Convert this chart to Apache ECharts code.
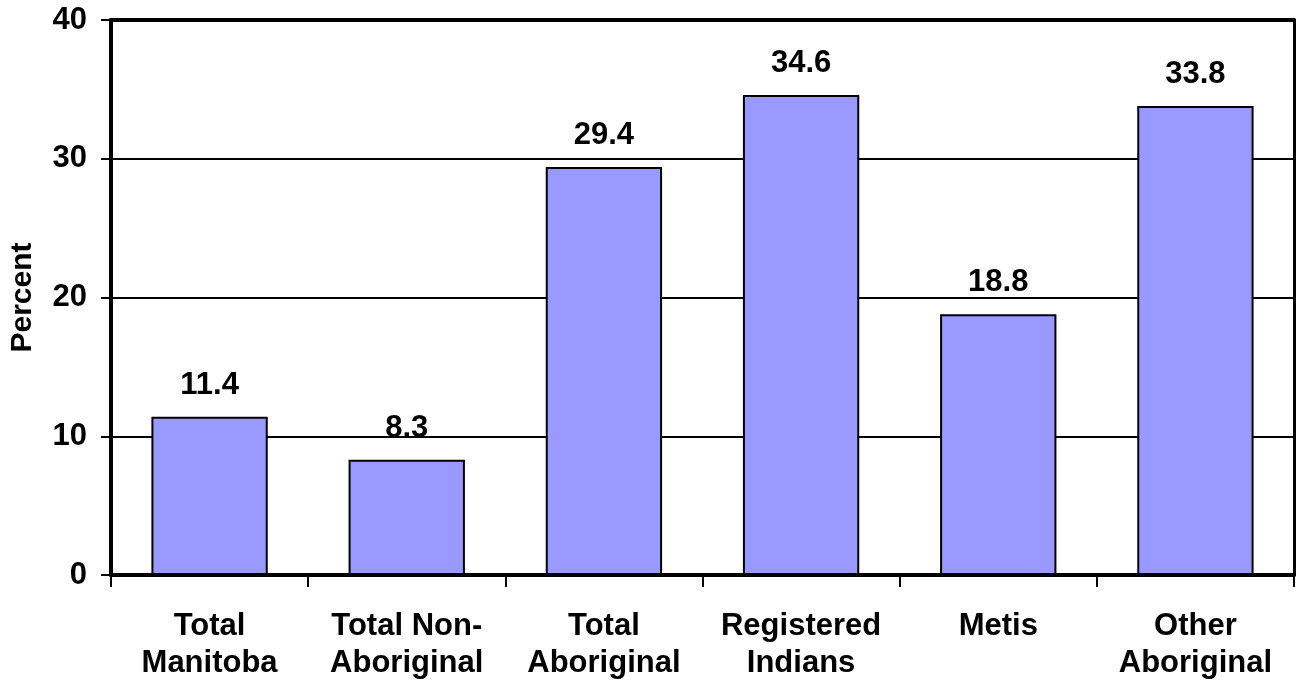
<!DOCTYPE html>
<html>
<head>
<meta charset="utf-8">
<script src="https://cdn.jsdelivr.net/npm/echarts@6/dist/echarts.min.js"></script>
<style>
html,body{margin:0;padding:0;background:#fff;}
#chart{width:1297px;height:685px;}
</style>
</head>
<body>
<div id="chart"></div>
<script>
const categories = ["Total\nManitoba", "Total Non-\nAboriginal", "Total\nAboriginal", "Registered\nIndians", "Metis", "Other\nAboriginal"];
const values = [11.4, 8.3, 29.4, 34.6, 18.8, 33.8];
const yTicks = [0, 10, 20, 30, 40];
const yTitle = "Percent";

const FONT = "'Liberation Sans', Arial, sans-serif";
const chart = echarts.init(document.getElementById('chart'), null, {renderer: 'canvas'});
chart.setOption({
  animation: false,
  backgroundColor: '#ffffff',
  grid: {left: 111, right: 3, top: 20, bottom: 110, containLabel: false, outerBoundsMode: 'none'},
  xAxis: [{
    type: 'category',
    data: categories,
    position: 'bottom',
    axisLine: {show: true, lineStyle: {color: '#000', width: 4}},
    axisTick: {show: true, length: 12, lineStyle: {color: '#000', width: 2}},
    axisLabel: {color: '#000', fontFamily: FONT, fontWeight: 'bold', fontSize: 31, lineHeight: 37, margin: 33, interval: 0},
    splitLine: {show: false}
  }, {
    type: 'category',
    data: categories,
    position: 'top',
    axisLine: {show: true, onZero: false, lineStyle: {color: '#000', width: 4}},
    axisTick: {show: false},
    axisLabel: {show: false},
    splitLine: {show: false}
  }],
  yAxis: [{
    type: 'value',
    min: yTicks[0],
    max: yTicks[yTicks.length - 1],
    interval: 10,
    name: yTitle,
    nameLocation: 'middle',
    nameGap: 73,
    nameRotate: 90,
    nameTextStyle: {color: '#000', fontFamily: FONT, fontWeight: 'bold', fontSize: 30},
    axisLine: {show: true, lineStyle: {color: '#000', width: 4}},
    axisTick: {show: true, length: 10, lineStyle: {color: '#000', width: 2}},
    axisLabel: {color: '#000', fontFamily: FONT, fontWeight: 'bold', fontSize: 31, margin: 24},
    splitLine: {show: true, lineStyle: {color: '#000', width: 2}}
  }, {
    type: 'value',
    min: yTicks[0],
    max: yTicks[yTicks.length - 1],
    interval: 10,
    position: 'right',
    axisLine: {show: true, onZero: false, lineStyle: {color: '#000', width: 3}},
    axisTick: {show: false},
    axisLabel: {show: false},
    splitLine: {show: false}
  }],
  series: [{
    type: 'bar',
    data: values,
    xAxisIndex: 0,
    yAxisIndex: 0,
    barCategoryGap: '41%',
    itemStyle: {color: '#9999FF', borderColor: '#000', borderWidth: 2},
    label: {show: true, position: 'top', distance: 16, color: '#000', fontFamily: FONT, fontWeight: 'bold', fontSize: 31,
      formatter: p => p.value.toFixed(1)}
  }]
});
</script>
</body>
</html>
